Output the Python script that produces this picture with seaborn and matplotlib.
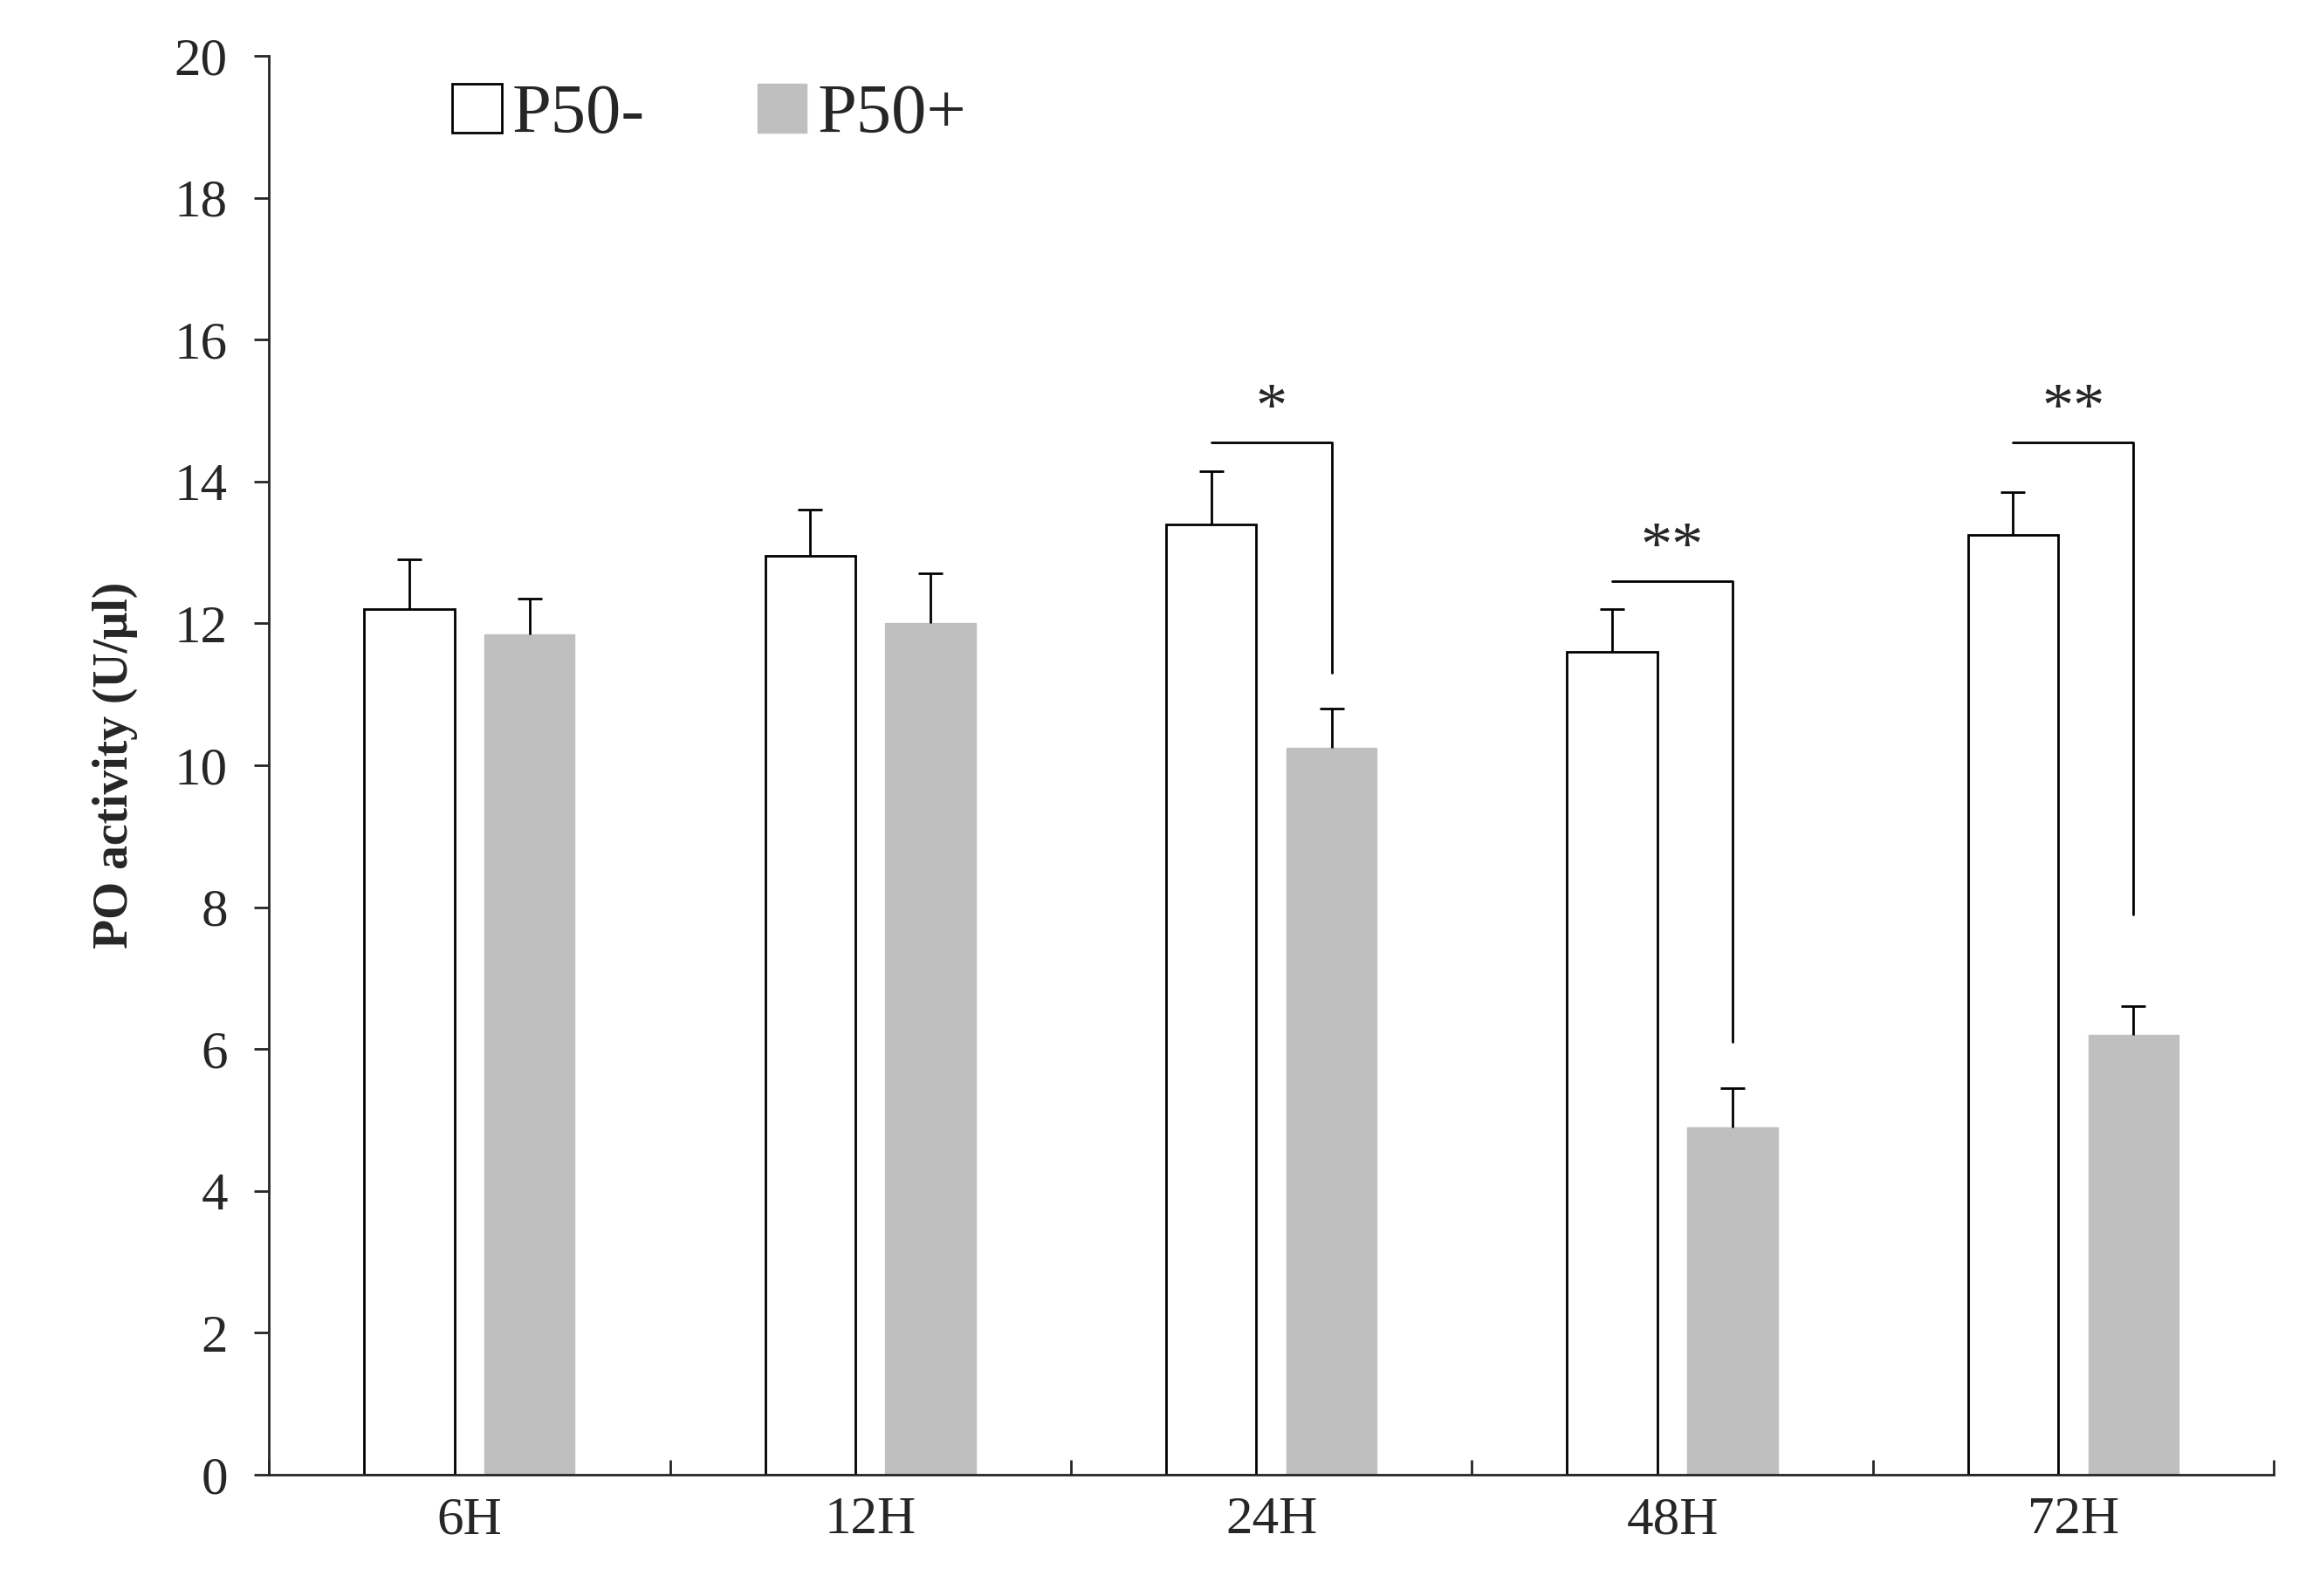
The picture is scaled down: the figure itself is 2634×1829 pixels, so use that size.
import matplotlib
matplotlib.use("Agg")
import matplotlib.pyplot as plt
import seaborn as sns
import pandas as pd
import numpy as np

categories = ["6H", "12H", "24H", "48H", "72H"]
groups = ["P50-", "P50+"]
p50_minus = [12.2, 12.95, 13.4, 11.6, 13.25]
p50_minus_err = [0.7, 0.65, 0.75, 0.6, 0.6]
p50_plus = [11.85, 12.0, 10.25, 4.9, 6.2]
p50_plus_err = [0.5, 0.7, 0.55, 0.55, 0.4]
sig_cats = ["24H", "48H", "72H"]
sig_labels = ["*", "**", "**"]
sig_top = [14.55, 12.6, 14.55]
sig_bottom = [11.3, 6.1, 7.9]

sns.set_style("ticks")
plt.rcParams['font.family'] = ['Liberation Serif', 'DejaVu Serif']

df = pd.DataFrame({
    "time": categories * 2,
    "group": [groups[0]] * 5 + [groups[1]] * 5,
    "value": p50_minus + p50_plus,
})

fig = plt.figure(figsize=(26.34, 18.29), dpi=100)
ax = fig.add_axes([0.117, 0.076, 0.872, 0.889])
sns.barplot(data=df, x="time", y="value", hue="group", order=categories,
            hue_order=groups, palette={"P50-": "white", "P50+": "#bfbfbf"},
            width=0.6, gap=0.25, errorbar=None, ax=ax, legend=False)
for p in ax.patches[:5]:
    p.set_edgecolor("black"); p.set_linewidth(2)
for p in ax.patches[5:10]:
    p.set_edgecolor("#bfbfbf")

x = np.arange(len(categories))
off = 0.15
for xs, vals, errs in [(x - off, p50_minus, p50_minus_err), (x + off, p50_plus, p50_plus_err)]:
    _, caps, _ = ax.errorbar(xs, vals, yerr=[np.zeros(5), errs], fmt="none",
                             ecolor="black", elinewidth=2, capsize=10, capthick=2)
    caps[0].set_visible(False)

for c, lab, top, bot in zip(sig_cats, sig_labels, sig_top, sig_bottom):
    i = categories.index(c)
    ax.plot([i - off, i + off, i + off], [top, top, bot], color="black", lw=2)
    ax.text(i, top + 0.05, lab, ha="center", va="bottom", fontsize=52)

ax.set_ylim(0, 20)
ax.set_xlim(-0.5, 4.5)
ax.set_yticks(range(0, 21, 2))
ax.set_xticks(np.arange(-0.5, 5, 1), minor=False)
ax.set_xticklabels([])
ax.set_xticks(x, minor=True)
ax.set_xticklabels(categories, minor=True)
ax.tick_params(axis="x", which="minor", length=0, labelsize=44, pad=18)
ax.tick_params(axis="x", which="major", length=12, width=2, direction="in")
ax.tick_params(axis="y", length=12, width=2, direction="out", labelsize=44, pad=22)
ax.set_xlabel("")
ax.set_ylabel("PO activity (U/μl)", fontsize=40, fontweight="bold", labelpad=30)
sns.despine(ax=ax)
for s in ["left", "bottom"]:
    ax.spines[s].set_linewidth(2)

from matplotlib.patches import Patch
handles = [Patch(facecolor="white", edgecolor="black", lw=2),
           Patch(facecolor="#bfbfbf", edgecolor="#bfbfbf")]
ax.legend(handles, groups, loc="upper left", bbox_to_anchor=(0.06, 1.025),
          ncol=2, frameon=False, fontsize=58, handlelength=0.7,
          handleheight=0.7, columnspacing=1.6, handletextpad=0.15)

fig.savefig("out.png", dpi=100)
